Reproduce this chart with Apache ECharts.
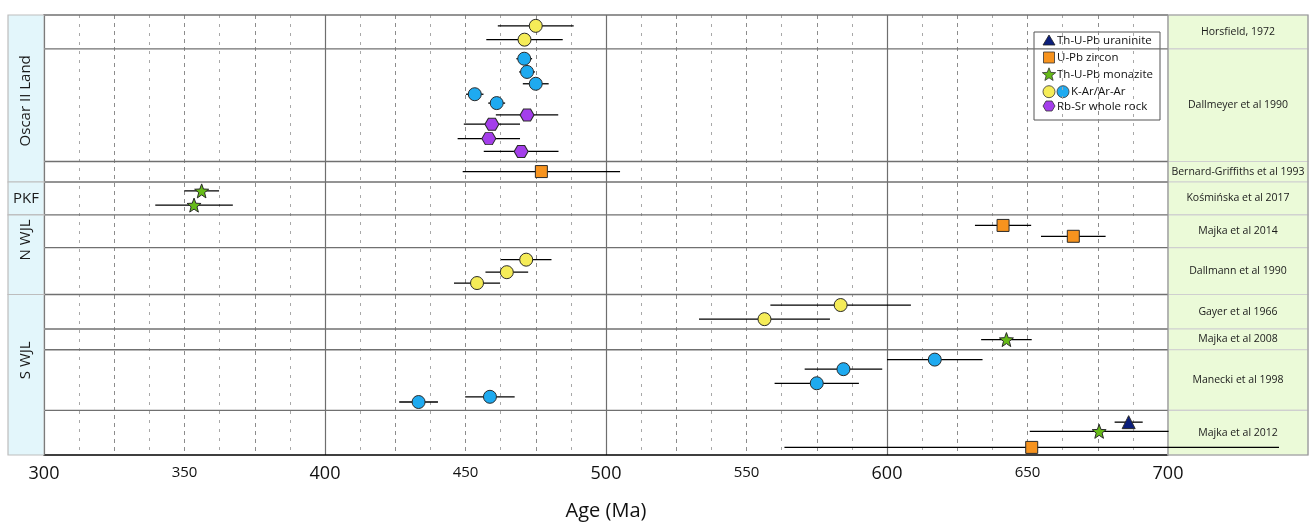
<!DOCTYPE html>
<html><head><meta charset="utf-8">
<script src="https://cdn.jsdelivr.net/npm/echarts@6/dist/echarts.min.js"></script>
<style>html,body{margin:0;padding:0;background:#fff}#c{width:1312px;height:526px}</style>
</head><body><div id="c"></div>
<script>
// ---- Data (ages in Ma, 1-sigma bar half-width, row position from top in row units) ----
const refNames = ['Horsfield, 1972', 'Dallmeyer et al 1990', 'Bernard-Griffiths et al 1993', 'Kośmińska et al 2017',
  'Majka et al 2014', 'Dallmann et al 1990', 'Gayer et al 1966', 'Majka et al 2008', 'Manecki et al 1998', 'Majka et al 2012'];
const refBounds = [0, 34.3, 148.5, 169.3, 202.7, 235.7, 283.3, 318.3, 339.3, 400.8, 446];
const regionNames = ['Oscar II Land', 'PKF', 'N WJL', 'S WJL'];
const regionBounds = [0, 169.3, 202.7, 283.3, 446];
const regionLabelPos = [87, 186, 228, 350];
const regionLabelRotated = [true, false, true, true];

const uraninite = [[686, 5, 412.7]];
const zircon = [[477, 28, 158.7], [641.3, 10, 213.3], [666.3, 11.5, 224.3], [651.5, 88, 438.3]];
const monazite = [[356.1, 6.2, 178.3], [353.4, 13.8, 192.7], [642.5, 9, 329], [675.5, 24.7, 422]];
const karYellow = [[475, 13.5, 11], [471, 13.6, 25], [471.6, 9, 248], [464.7, 7.6, 260.7], [454.1, 8.2, 271.7],
  [583.5, 25, 294], [556.4, 23.3, 308.3]];
const karBlue = [[470.9, 2.8, 44.3], [471.9, 2.8, 57.7], [475, 4.6, 69.7], [453.3, 3.1, 80.3], [461.1, 3, 89.3],
  [617, 17, 349.3], [584.5, 13.8, 359], [575, 15, 373.3], [458.7, 8.8, 387], [433.3, 6.9, 392.3]];
const rbsr = [[471.9, 11.1, 101.3], [459.4, 10, 110.7], [458.3, 11.1, 125.3], [469.8, 13.3, 138.3]];

const xMin = 300, xMax = 700;
const FONT = '"Open Sans", "Noto Sans", sans-serif';

const C = {yellow: '#F5EC58', blue: '#1EAAF0', purple: '#A43EEB', orange: '#F7931E', green: '#66BB18', navy: '#0B1E7C'};
const STAR = 'path://M10,0 L12.47,6.6 L19.51,6.91 L13.99,11.3 L15.88,18.09 L10,14.2 L4.12,18.09 L6.01,11.3 L0.49,6.91 L7.53,6.6 Z';
const HEX = 'path://M0,5 L2.9,0 L8.7,0 L11.6,5 L8.7,10 L2.9,10 Z';

const RIGHT_W = 140, LEFT_W = 36;

function starPts(cx, cy, R, r) {
  const pts = [];
  for (let k = 0; k < 10; k++) {
    const ang = -Math.PI / 2 + k * Math.PI / 5;
    const rad = k % 2 === 0 ? R : r;
    pts.push([cx + rad * Math.cos(ang), cy + rad * Math.sin(ang)]);
  }
  return pts;
}

const chart = echarts.init(document.getElementById('c'), null, {renderer: 'canvas'});

function scatter(name, arr, symbol, size, color) {
  return {
    name, type: 'scatter', z: 4, clip: false, symbol, symbolSize: size,
    data: arr.map(d => [d[0], d[2]]),
    itemStyle: {color, borderColor: '#2a2a2a', borderWidth: 1, opacity: 1},
    emphasis: {disabled: true}, silent: true
  };
}

const allPts = [].concat(uraninite, zircon, monazite, karYellow, karBlue, rbsr);

const option = {
  animation: false,
  backgroundColor: '#fff',
  grid: {left: 44, right: 144, top: 15, bottom: 65, containLabel: false},
  xAxis: [{
    type: 'value', min: xMin, max: xMax, interval: 25, position: 'bottom',
    axisLine: {show: true, onZero: false, lineStyle: {color: '#000', width: 1.5}},
    axisTick: {show: false},
    axisLabel: {
      margin: 10, color: '#111', fontFamily: FONT,
      formatter: v => v % 100 === 0 ? '{b|' + v + '}' : (v % 50 === 0 ? '{s|' + v + '}' : ''),
      rich: {b: {fontSize: 18, fontFamily: FONT, color: '#111'}, s: {fontSize: 15, fontFamily: FONT, color: '#111'}}
    },
    splitLine: {show: true, lineStyle: {color: '#8c8c8c', type: [4, 4], width: 1}},
    minorTick: {show: false, splitNumber: 2},
    minorSplitLine: {show: true, lineStyle: {color: '#a8a8a8', type: [3, 6], width: 1}},
    name: 'Age (Ma)', nameLocation: 'middle', nameGap: 46,
    nameTextStyle: {fontSize: 20, fontFamily: FONT, color: '#111'}
  }, {
    type: 'value', min: xMin, max: xMax, interval: 100, position: 'bottom',
    axisLine: {show: false}, axisTick: {show: false}, axisLabel: {show: false},
    splitLine: {show: true, lineStyle: {color: '#6e6e6e', width: 1.2}}
  }],
  yAxis: {
    type: 'value', min: 0, max: 446, inverse: true,
    axisLine: {show: true, onZero: false, lineStyle: {color: '#000', width: 1.5}},
    axisTick: {show: false}, axisLabel: {show: false}, splitLine: {show: false}
  },
  series: [
    {
      type: 'custom', z: 1, clip: false, silent: true,
      data: refNames.map((n, i) => [xMax, refBounds[i], refBounds[i + 1], i]),
      encode: {x: 0, y: [1, 2]},
      renderItem: (params, api) => {
        const i = api.value(3);
        const p0 = api.coord([xMax, api.value(1)]);
        const p1 = api.coord([xMax, api.value(2)]);
        const l0 = api.coord([xMin, api.value(1)]);
        const children = [
          {type: 'rect', shape: {x: p0[0], y: p0[1], width: RIGHT_W, height: p1[1] - p0[1]},
            style: {fill: '#EBFAD8', stroke: '#cfcfcf', lineWidth: 1.2}},
          {type: 'text', style: {text: refNames[i], x: p0[0] + RIGHT_W / 2, y: (p0[1] + p1[1]) / 2,
            align: 'center', verticalAlign: 'middle', fontSize: 10.5, fontFamily: FONT, fill: '#1a1a1a'}},
          {type: 'line', shape: {x1: l0[0], y1: l0[1], x2: p0[0], y2: p0[1]},
            style: {stroke: '#707070', lineWidth: 1.3}}
        ];
        if (i === 0) {
          const pe = api.coord([xMax, refBounds[refBounds.length - 1]]);
          children.push({type: 'rect', z2: 10, shape: {x: p0[0], y: p0[1], width: RIGHT_W, height: pe[1] - p0[1]},
            style: {fill: 'none', stroke: '#9a9a9a', lineWidth: 1.2}});
        }
        return {type: 'group', children};
      }
    },
    {
      type: 'custom', z: 1, clip: false, silent: true,
      data: regionNames.map((n, i) => [xMin, regionBounds[i], regionBounds[i + 1], i, regionLabelPos[i]]),
      encode: {x: 0, y: [1, 2]},
      renderItem: (params, api) => {
        const i = api.value(3);
        const p0 = api.coord([xMin, api.value(1)]);
        const p1 = api.coord([xMin, api.value(2)]);
        const pl = api.coord([xMin, api.value(4)]);
        const rot = regionLabelRotated[i];
        return {type: 'group', children: [
          {type: 'rect', shape: {x: p0[0] - LEFT_W, y: p0[1], width: LEFT_W, height: p1[1] - p0[1]},
            style: {fill: '#E3F6FB', stroke: '#bdbdbd', lineWidth: 1.2}},
          {type: 'text', x: p0[0] - LEFT_W / 2, y: pl[1], rotation: rot ? Math.PI / 2 : 0,
            style: {text: regionNames[i], x: 0, y: 0, align: 'center', verticalAlign: 'middle',
              fontSize: 15, fontFamily: FONT, fill: '#1a1a1a'}}
        ]};
      }
    },
    {
      type: 'custom', z: 3, clip: false, silent: true,
      data: allPts,
      encode: {x: 0, y: 2},
      renderItem: (params, api) => {
        const a = api.coord([api.value(0) - api.value(1), api.value(2)]);
        const b = api.coord([api.value(0) + api.value(1), api.value(2)]);
        return {type: 'line', shape: {x1: a[0], y1: a[1], x2: b[0], y2: b[1]},
          style: {stroke: '#000', lineWidth: 1.3}};
      }
    },
    scatter('Th-U-Pb uraninite', uraninite, 'triangle', 13, C.navy),
    scatter('U-Pb zircon', zircon, 'rect', 12, C.orange),
    scatter('Th-U-Pb monazite', monazite, STAR, 14, C.green),
    scatter('K-Ar/Ar-Ar', karYellow, 'circle', 13, C.yellow),
    scatter('K-Ar/Ar-Ar ', karBlue, 'circle', 13, C.blue),
    scatter('Rb-Sr whole rock', rbsr, HEX, [14, 12], C.purple)
  ],
  graphic: [{
    type: 'group', x: 1034, y: 32, z: 100,
    children: [
      {type: 'rect', shape: {x: 0, y: 0, width: 126, height: 88}, style: {fill: '#fff', stroke: '#555', lineWidth: 1}},
      {type: 'polygon', shape: {points: [[15, 3], [21, 13], [9, 13]]}, style: {fill: C.navy, stroke: '#222', lineWidth: 0.8}},
      {type: 'text', style: {text: 'Th-U-Pb uraninite', x: 23, y: 8.5, verticalAlign: 'middle', fontSize: 11.5, fontFamily: FONT, fill: '#111'}},
      {type: 'rect', shape: {x: 9.5, y: 20, width: 11, height: 11}, style: {fill: C.orange, stroke: '#333', lineWidth: 0.8}},
      {type: 'text', style: {text: 'U-Pb zircon', x: 23, y: 25.5, verticalAlign: 'middle', fontSize: 11.5, fontFamily: FONT, fill: '#111'}},
      {type: 'polygon', shape: {points: starPts(15, 42.8, 7, 3)}, style: {fill: C.green, stroke: '#333', lineWidth: 0.8}},
      {type: 'text', style: {text: 'Th-U-Pb monazite', x: 23, y: 42.5, verticalAlign: 'middle', fontSize: 11.5, fontFamily: FONT, fill: '#111'}},
      {type: 'circle', shape: {cx: 15, cy: 59.7, r: 6}, style: {fill: C.yellow, stroke: '#333', lineWidth: 0.8}},
      {type: 'circle', shape: {cx: 29, cy: 59.7, r: 6}, style: {fill: C.blue, stroke: '#333', lineWidth: 0.8}},
      {type: 'text', style: {text: 'K-Ar/Ar-Ar', x: 37, y: 60, verticalAlign: 'middle', fontSize: 11.5, fontFamily: FONT, fill: '#111'}},
      {type: 'polygon', shape: {points: [[9, 74], [12, 69], [18, 69], [21, 74], [18, 79], [12, 79]]}, style: {fill: C.purple, stroke: '#333', lineWidth: 0.8}},
      {type: 'text', style: {text: 'Rb-Sr whole rock', x: 23, y: 74.5, verticalAlign: 'middle', fontSize: 11.5, fontFamily: FONT, fill: '#111'}}
    ]
  }]
};
chart.setOption(option);
</script></body></html>
